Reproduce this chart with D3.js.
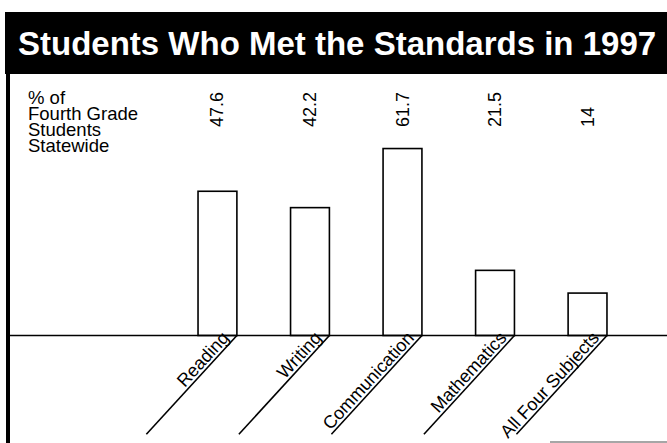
<!DOCTYPE html>
<html>
<head>
<meta charset="utf-8">
<script src="https://cdn.jsdelivr.net/npm/d3@7"></script>
<style>
  body { margin: 0; background: #fff; }
  svg { display: block; }
</style>
</head>
<body>
<div id="chart"></div>
<script>
// Data
const categories = ["Reading", "Writing", "Communication", "Mathematics", "All Four Subjects"];
const values = [47.6, 42.2, 61.7, 21.5, 14];
const valueLabels = ["47.6", "42.2", "61.7", "21.5", "14"];
const axisLabelLines = ["% of", "Fourth Grade", "Students", "Statewide"];
const titleText = "Students Who Met the Standards in 1997";

const width = 667, height = 443;
const baseY = 335.5;
const font = "'Liberation Sans', Arial, Helvetica, sans-serif";

const svg = d3.select("#chart")
    .append("svg")
    .attr("width", width)
    .attr("height", height);

svg.append("rect")
    .attr("width", width)
    .attr("height", height)
    .attr("fill", "#fff");

// Title bar
svg.append("rect")
    .attr("x", 5)
    .attr("y", 12)
    .attr("width", width - 5)
    .attr("height", 62)
    .attr("fill", "#000");

svg.append("text")
    .attr("x", 18)
    .attr("y", 55)
    .attr("fill", "#fff")
    .style("font-family", font)
    .style("font-size", "33px")
    .style("font-weight", "bold")
    .text(titleText);

// Left frame line
svg.append("rect")
    .attr("x", 6)
    .attr("y", 70)
    .attr("width", 4)
    .attr("height", height - 70)
    .attr("fill", "#000");

// Scales
const x = d3.scaleBand()
    .domain(categories)
    .range([171.2, 633.8])
    .paddingInner(0.58)
    .paddingOuter(0.29);

const y = d3.scaleLinear()
    .domain([0, 100])
    .range([baseY, baseY - 303]);

// Axis label (upper left)
const lab = svg.append("text")
    .attr("x", 28)
    .attr("y", 104)
    .style("font-family", font)
    .style("font-size", "18.5px")
    .attr("fill", "#000");
lab.selectAll("tspan")
    .data(axisLabelLines)
    .enter()
    .append("tspan")
    .attr("x", 28)
    .attr("dy", (d, i) => i === 0 ? 0 : 16)
    .text(d => d);

// Bars
svg.selectAll(".bar")
    .data(categories)
    .enter()
    .append("rect")
    .attr("class", "bar")
    .attr("x", d => x(d))
    .attr("y", (d, i) => y(values[i]))
    .attr("width", x.bandwidth())
    .attr("height", (d, i) => baseY - y(values[i]))
    .attr("fill", "#fff")
    .attr("stroke", "#000")
    .attr("stroke-width", 1.6);

// Baseline
svg.append("line")
    .attr("x1", 10)
    .attr("x2", width)
    .attr("y1", baseY)
    .attr("y2", baseY)
    .attr("stroke", "#000")
    .attr("stroke-width", 1.6);

// Value labels, rotated
svg.selectAll(".val")
    .data(categories)
    .enter()
    .append("text")
    .attr("class", "val")
    .attr("transform", d => `translate(${x(d) + x.bandwidth() / 2 + 6},127) rotate(-90)`)
    .attr("text-anchor", "start")
    .style("font-family", font)
    .style("font-size", "18px")
    .attr("fill", "#000")
    .text((d, i) => valueLabels[i]);

// Slanted category labels with their rules
const angle = 47.5;
const ruleLen = 134;
const cat = svg.selectAll(".cat")
    .data(categories)
    .enter()
    .append("g")
    .attr("class", "cat")
    .attr("transform", d => `translate(${x(d) + x.bandwidth()},${baseY}) rotate(${-angle})`);

cat.append("line")
    .attr("x1", 0)
    .attr("x2", -ruleLen)
    .attr("y1", 0)
    .attr("y2", 0)
    .attr("stroke", "#000")
    .attr("stroke-width", 1.6);

cat.append("text")
    .attr("x", -7)
    .attr("y", -3)
    .attr("text-anchor", "end")
    .style("font-family", "'Liberation Sans Narrow', 'Arial Narrow', " + font)
    .style("font-size", "18px")
    .attr("fill", "#000")
    .text(d => d);

// faint rule at bottom right
svg.append("line")
    .attr("x1", 550)
    .attr("x2", width)
    .attr("y1", 442)
    .attr("y2", 442)
    .attr("stroke", "#888")
    .attr("stroke-width", 1.5);
</script>
</body>
</html>
